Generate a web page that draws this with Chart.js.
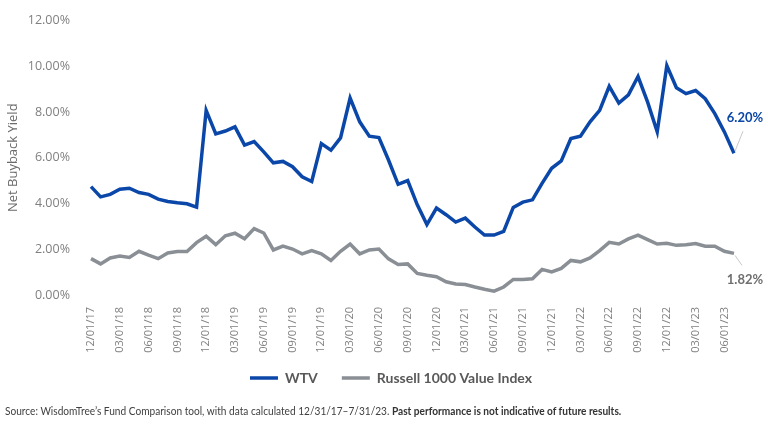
<!DOCTYPE html>
<html>
<head>
<meta charset="utf-8">
<script src="https://cdn.jsdelivr.net/npm/chart.js@4.4.0/dist/chart.umd.min.js"></script>
<style>
  html, body { margin: 0; padding: 0; background: #fff; }
  #wrap { position: relative; width: 768px; height: 428px; }
  #source { position: absolute; left: 5px; top: 404px; font-family: "Lato", sans-serif; font-size: 11px; color: #404040; white-space: nowrap; transform: scaleX(0.92); transform-origin: left top; }
  #source b { color: #333; }
</style>
</head>
<body>
<div id="wrap">
  <canvas id="myChart" width="768" height="428"></canvas>
  <div id="source">Source: WisdomTree’s Fund Comparison tool, with data calculated 12/31/17–7/31/23. <b>Past performance is not indicative of future results.</b></div>
</div>
<script>
const months = ['12/01/17',
  '01/01/18','02/01/18','03/01/18','04/01/18','05/01/18','06/01/18','07/01/18','08/01/18','09/01/18','10/01/18','11/01/18','12/01/18',
  '01/01/19','02/01/19','03/01/19','04/01/19','05/01/19','06/01/19','07/01/19','08/01/19','09/01/19','10/01/19','11/01/19','12/01/19',
  '01/01/20','02/01/20','03/01/20','04/01/20','05/01/20','06/01/20','07/01/20','08/01/20','09/01/20','10/01/20','11/01/20','12/01/20',
  '01/01/21','02/01/21','03/01/21','04/01/21','05/01/21','06/01/21','07/01/21','08/01/21','09/01/21','10/01/21','11/01/21','12/01/21',
  '01/01/22','02/01/22','03/01/22','04/01/22','05/01/22','06/01/22','07/01/22','08/01/22','09/01/22','10/01/22','11/01/22','12/01/22',
  '01/01/23','02/01/23','03/01/23','04/01/23','05/01/23','06/01/23','07/01/23'];

const wtv = [4.74,4.29,4.40,4.62,4.67,4.48,4.40,4.19,4.09,4.03,3.99,3.84,8.07,7.04,7.17,7.35,6.55,6.71,
  6.26,5.78,5.84,5.61,5.17,4.96,6.62,6.33,6.87,8.61,7.57,6.94,6.88,5.90,4.84,5.00,3.94,3.08,
  3.80,3.51,3.19,3.36,2.97,2.62,2.62,2.78,3.83,4.06,4.16,4.88,5.54,5.86,6.84,6.94,7.57,8.07,
  9.12,8.39,8.75,9.55,8.43,7.13,10.03,9.06,8.80,8.94,8.58,7.93,7.13,6.20];

const russell = [1.59,1.36,1.62,1.70,1.64,1.91,1.74,1.59,1.84,1.90,1.90,2.29,2.57,2.20,2.59,2.70,2.46,2.90,
  2.71,1.97,2.14,2.01,1.80,1.94,1.80,1.51,1.91,2.23,1.80,1.97,2.01,1.58,1.33,1.36,0.94,0.86,
  0.80,0.58,0.48,0.46,0.35,0.25,0.17,0.35,0.68,0.68,0.71,1.12,1.01,1.16,1.51,1.45,1.62,1.94,
  2.30,2.23,2.45,2.62,2.42,2.23,2.26,2.17,2.20,2.25,2.13,2.13,1.91,1.82];

const seriesNames = ['WTV', 'Russell 1000 Value Index'];
const blue = '#0B47A8';
const grey = '#8A8F95';

// last value labels with small leader lines
const endLabels = {
  id: 'endLabels',
  afterUpdate(chart) {
    // legend sits a bit right of centre and a bit higher in the original
    const lg = chart.legend;
    lg.left += 24; lg.right += 24;
    lg.top -= 10; lg.bottom -= 10;
  },
  afterDatasetsDraw(chart) {
    const ctx = chart.ctx;
    const spots = [
      { i: 0, dx: 11, dy: -35, lx: 9, ly: -22, color: blue },
      { i: 1, dx: 11, dy: 26, lx: 8, ly: 12, color: '#6f6f6f' }
    ];
    spots.forEach(s => {
      const meta = chart.getDatasetMeta(s.i);
      const pt = meta.data[meta.data.length - 1];
      const val = chart.data.datasets[s.i].data[meta.data.length - 1];
      ctx.save();
      ctx.strokeStyle = '#c8c8c8';
      ctx.lineWidth = 1;
      ctx.beginPath();
      ctx.moveTo(pt.x + 1, pt.y + (s.ly < 0 ? -2 : 2));
      ctx.lineTo(pt.x + s.lx, pt.y + s.ly);
      ctx.stroke();
      ctx.font = 'bold 13px Lato, sans-serif';
      ctx.fillStyle = s.color;
      ctx.textAlign = 'center';
      ctx.textBaseline = 'middle';
      ctx.fillText(val.toFixed(2) + '%', pt.x + s.dx, pt.y + s.dy);
      ctx.restore();
    });
  }
};

const config = {
  type: 'line',
  data: {
    labels: months,
    datasets: [
      {
        label: seriesNames[0],
        data: wtv,
        borderColor: blue,
        backgroundColor: blue,
        borderWidth: 3.5,
        pointRadius: 0,
        tension: 0
      },
      {
        label: seriesNames[1],
        data: russell,
        borderColor: grey,
        backgroundColor: grey,
        borderWidth: 3.5,
        pointRadius: 0,
        tension: 0
      }
    ]
  },
  options: {
    responsive: false,
    animation: false,
    layout: { padding: { top: 2, right: 34, bottom: 23, left: 0 } },
    plugins: {
      legend: {
        position: 'bottom',
        labels: {
          usePointStyle: true,
          pointStyle: 'line',
          pointStyleWidth: 28,
          boxHeight: 14,
          padding: 24,
          color: '#595959',
          font: { family: 'Lato', weight: 'bold', size: 14 }
        }
      },
      tooltip: { enabled: false }
    },
    scales: {
      x: {
        grid: { display: false },
        border: { display: false },
        afterFit(scale) { scale.height = 62; },
        ticks: {
          autoSkip: false,
          minRotation: 90,
          maxRotation: 90,
          padding: 4,
          color: '#808080',
          font: { family: 'Open Sans', size: 11 },
          callback(val, index) {
            return index % 3 === 0 ? this.getLabelForValue(val) : '';
          }
        }
      },
      y: {
        min: 0,
        max: 12,
        grid: { display: false },
        border: { display: false },
        afterFit(scale) { scale.width = 91; },
        title: {
          display: true,
          text: 'Net Buyback Yield',
          color: '#6b6b6b',
          font: { family: 'Open Sans', size: 13 },
          padding: { top: 5, bottom: 0 }
        },
        ticks: {
          stepSize: 2,
          padding: 13,
          color: '#808080',
          font: { family: 'Open Sans', size: 12.5 },
          callback: v => v.toFixed(2) + '%'
        }
      }
    }
  },
  plugins: [endLabels]
};

const myChart = new Chart(document.getElementById('myChart'), config);
</script>
</body>
</html>
